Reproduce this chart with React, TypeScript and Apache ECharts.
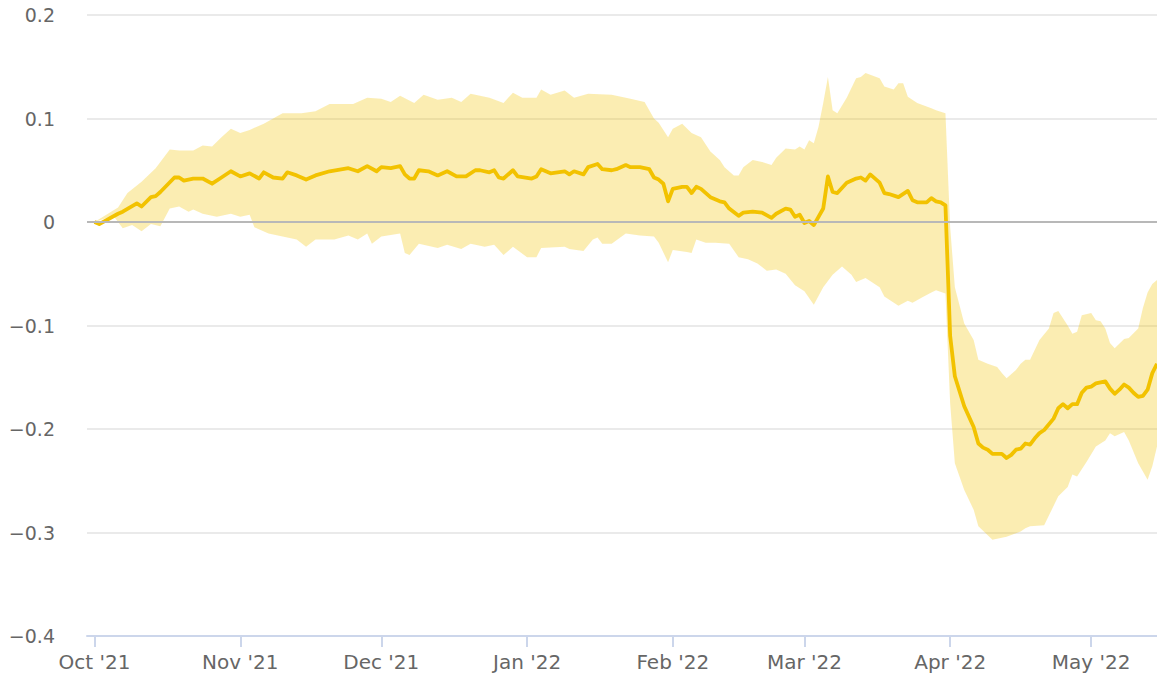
import React, { useEffect, useRef } from "react";
import * as echarts from "echarts";

// Central estimate (daily)
const meanDates = [
  "2021-10-01","2021-10-02","2021-10-06","2021-10-07","2021-10-10","2021-10-11","2021-10-13","2021-10-14","2021-10-15",
  "2021-10-18","2021-10-19","2021-10-20","2021-10-22","2021-10-24","2021-10-26","2021-10-28","2021-10-30",
  "2021-11-01","2021-11-03","2021-11-05","2021-11-06","2021-11-08","2021-11-10","2021-11-11","2021-11-13","2021-11-15",
  "2021-11-17","2021-11-20","2021-11-24","2021-11-26","2021-11-28","2021-11-30",
  "2021-12-01","2021-12-03","2021-12-05","2021-12-06","2021-12-07","2021-12-08","2021-12-09","2021-12-11","2021-12-13",
  "2021-12-15","2021-12-17","2021-12-19","2021-12-21","2021-12-22","2021-12-24","2021-12-25","2021-12-26","2021-12-27",
  "2021-12-29","2021-12-30",
  "2022-01-02","2022-01-03","2022-01-04","2022-01-06","2022-01-09","2022-01-10","2022-01-11","2022-01-13","2022-01-14",
  "2022-01-16","2022-01-17","2022-01-19","2022-01-20","2022-01-22","2022-01-23","2022-01-25","2022-01-27","2022-01-28",
  "2022-01-29","2022-01-30","2022-01-31",
  "2022-02-01","2022-02-03","2022-02-04","2022-02-05","2022-02-06","2022-02-07","2022-02-09","2022-02-11","2022-02-12",
  "2022-02-13","2022-02-15","2022-02-16","2022-02-18","2022-02-20","2022-02-22","2022-02-23","2022-02-25","2022-02-26",
  "2022-02-27","2022-02-28",
  "2022-03-01","2022-03-02","2022-03-03","2022-03-05","2022-03-06","2022-03-07","2022-03-08","2022-03-10","2022-03-12",
  "2022-03-13","2022-03-14","2022-03-15","2022-03-17","2022-03-18","2022-03-19","2022-03-21","2022-03-23","2022-03-24",
  "2022-03-25","2022-03-27","2022-03-28","2022-03-29","2022-03-30","2022-03-31",
  "2022-04-01","2022-04-02","2022-04-04","2022-04-06","2022-04-07","2022-04-08","2022-04-09","2022-04-10","2022-04-12",
  "2022-04-13","2022-04-14","2022-04-15","2022-04-16","2022-04-17","2022-04-18","2022-04-19","2022-04-20","2022-04-21",
  "2022-04-23","2022-04-24","2022-04-25","2022-04-26","2022-04-27","2022-04-28","2022-04-29","2022-04-30",
  "2022-05-01","2022-05-02","2022-05-04","2022-05-05","2022-05-06","2022-05-07","2022-05-08","2022-05-09","2022-05-10",
  "2022-05-11","2022-05-12","2022-05-13","2022-05-14","2022-05-15",
];
const meanValues = [
  0.000,-0.002,0.008,0.010,0.018,0.015,0.024,0.025,0.029,
  0.043,0.043,0.040,0.042,0.042,0.037,0.043,0.049,
  0.044,0.047,0.042,0.048,0.043,0.042,0.048,0.045,0.041,
  0.045,0.049,0.052,0.049,0.054,0.049,
  0.053,0.052,0.054,0.046,0.042,0.042,0.050,0.049,0.045,
  0.049,0.044,0.044,0.050,0.050,0.048,0.050,0.043,0.042,
  0.050,0.044,
  0.042,0.044,0.051,0.047,0.049,0.046,0.049,0.046,0.053,
  0.056,0.051,0.050,0.051,0.055,0.053,0.053,0.051,0.043,
  0.041,0.037,0.020,
  0.032,0.034,0.034,0.028,0.034,0.032,0.024,0.020,0.019,
  0.013,0.006,0.009,0.010,0.009,0.004,0.008,0.013,0.012,
  0.005,0.007,
  -0.001,0.001,-0.003,0.013,0.044,0.029,0.028,0.038,0.042,
  0.043,0.040,0.046,0.038,0.028,0.027,0.024,0.030,0.021,
  0.019,0.019,0.023,0.020,0.019,0.016,
  -0.110,-0.149,-0.178,-0.198,-0.214,-0.218,-0.220,-0.224,-0.224,
  -0.228,-0.225,-0.220,-0.219,-0.214,-0.215,-0.209,-0.204,-0.201,
  -0.190,-0.180,-0.176,-0.180,-0.176,-0.176,-0.165,-0.160,
  -0.159,-0.156,-0.154,-0.161,-0.166,-0.162,-0.157,-0.160,-0.165,
  -0.169,-0.168,-0.162,-0.146,-0.137,
];

// Upper bound of the uncertainty band
const upperDates = [
  "2021-10-01","2021-10-06","2021-10-08","2021-10-11","2021-10-14","2021-10-17","2021-10-19","2021-10-22","2021-10-24",
  "2021-10-26","2021-10-28","2021-10-30","2021-11-01","2021-11-03","2021-11-06","2021-11-10","2021-11-14","2021-11-17",
  "2021-11-20","2021-11-25","2021-11-28","2021-12-01","2021-12-03","2021-12-05","2021-12-08","2021-12-10","2021-12-13",
  "2021-12-16","2021-12-18","2021-12-20","2021-12-24","2021-12-27","2021-12-29","2021-12-31",
  "2022-01-03","2022-01-04","2022-01-06","2022-01-09","2022-01-11","2022-01-14","2022-01-19","2022-01-23","2022-01-26",
  "2022-01-28","2022-01-29","2022-01-31",
  "2022-02-01","2022-02-03","2022-02-05","2022-02-07","2022-02-09","2022-02-11","2022-02-12","2022-02-14","2022-02-15",
  "2022-02-16","2022-02-18","2022-02-20","2022-02-22","2022-02-23","2022-02-25","2022-02-27","2022-02-28",
  "2022-03-01","2022-03-02","2022-03-03","2022-03-04","2022-03-05","2022-03-06","2022-03-07","2022-03-08","2022-03-10",
  "2022-03-12","2022-03-13","2022-03-14","2022-03-17","2022-03-18","2022-03-20","2022-03-21","2022-03-22","2022-03-23",
  "2022-03-25","2022-03-28","2022-03-29","2022-03-31",
  "2022-04-01","2022-04-02","2022-04-04","2022-04-06","2022-04-07","2022-04-09","2022-04-11","2022-04-12","2022-04-13",
  "2022-04-15","2022-04-16","2022-04-17","2022-04-18","2022-04-20","2022-04-22","2022-04-23","2022-04-24","2022-04-26",
  "2022-04-27","2022-04-28","2022-04-29",
  "2022-05-01","2022-05-02","2022-05-03","2022-05-04","2022-05-05","2022-05-06","2022-05-08","2022-05-09","2022-05-11",
  "2022-05-12","2022-05-13","2022-05-14","2022-05-15",
];
const upperValues = [
  0.000,0.014,0.028,0.039,0.052,0.070,0.069,0.069,0.074,
  0.073,0.082,0.090,0.086,0.089,0.095,0.105,0.105,0.107,
  0.114,0.114,0.120,0.119,0.116,0.122,0.115,0.123,0.118,
  0.120,0.116,0.124,0.120,0.115,0.125,0.120,
  0.120,0.128,0.123,0.127,0.120,0.124,0.123,0.119,0.116,
  0.100,0.096,0.082,
  0.090,0.095,0.086,0.082,0.068,0.060,0.053,0.045,0.045,
  0.053,0.060,0.058,0.055,0.062,0.071,0.070,0.073,
  0.070,0.079,0.076,0.092,0.115,0.140,0.108,0.105,0.120,
  0.139,0.140,0.144,0.139,0.131,0.128,0.134,0.134,0.121,
  0.115,0.110,0.108,0.105,
  -0.005,-0.063,-0.098,-0.114,-0.133,-0.137,-0.140,-0.146,-0.151,
  -0.143,-0.137,-0.133,-0.133,-0.114,-0.103,-0.088,-0.086,-0.100,
  -0.108,-0.106,-0.090,
  -0.088,-0.095,-0.096,-0.103,-0.117,-0.122,-0.113,-0.112,-0.103,
  -0.083,-0.068,-0.060,-0.056,
];

// Lower bound of the uncertainty band
const lowerDates = [
  "2021-10-01","2021-10-05","2021-10-07","2021-10-09","2021-10-11","2021-10-13","2021-10-15","2021-10-17","2021-10-19",
  "2021-10-21","2021-10-22","2021-10-24","2021-10-27","2021-10-30","2021-11-01","2021-11-03","2021-11-04","2021-11-07",
  "2021-11-10","2021-11-13","2021-11-15","2021-11-17","2021-11-21","2021-11-24","2021-11-26","2021-11-28","2021-11-29",
  "2021-12-01","2021-12-05","2021-12-06","2021-12-07","2021-12-09","2021-12-13","2021-12-15","2021-12-18","2021-12-20",
  "2021-12-23","2021-12-25","2021-12-27","2021-12-29",
  "2022-01-01","2022-01-03","2022-01-04","2022-01-09","2022-01-10","2022-01-13","2022-01-15","2022-01-16","2022-01-17",
  "2022-01-19","2022-01-22","2022-01-25","2022-01-28","2022-01-29","2022-01-31",
  "2022-02-01","2022-02-04","2022-02-05","2022-02-06","2022-02-08","2022-02-10","2022-02-13","2022-02-15","2022-02-17",
  "2022-02-19","2022-02-21","2022-02-23","2022-02-25","2022-02-27",
  "2022-03-01","2022-03-03","2022-03-05","2022-03-07","2022-03-09","2022-03-11","2022-03-12","2022-03-14","2022-03-17",
  "2022-03-18","2022-03-21","2022-03-23","2022-03-24","2022-03-26","2022-03-28","2022-03-29","2022-03-31",
  "2022-04-01","2022-04-02","2022-04-04","2022-04-06","2022-04-07","2022-04-10","2022-04-13","2022-04-16","2022-04-17",
  "2022-04-18","2022-04-21","2022-04-24","2022-04-26","2022-04-27","2022-04-28","2022-04-30",
  "2022-05-02","2022-05-04","2022-05-05","2022-05-06","2022-05-08","2022-05-09","2022-05-11","2022-05-13","2022-05-14",
  "2022-05-15",
];
const lowerValues = [
  0.000,0.006,-0.006,-0.003,-0.009,-0.002,-0.004,0.013,0.015,
  0.010,0.012,0.008,0.005,0.008,0.005,0.007,-0.005,-0.011,
  -0.014,-0.017,-0.024,-0.017,-0.017,-0.013,-0.017,-0.011,-0.021,
  -0.014,-0.011,-0.030,-0.032,-0.021,-0.025,-0.022,-0.026,-0.021,
  -0.024,-0.022,-0.032,-0.024,
  -0.034,-0.034,-0.025,-0.024,-0.026,-0.028,-0.017,-0.015,-0.021,
  -0.021,-0.011,-0.013,-0.014,-0.020,-0.039,
  -0.027,-0.029,-0.030,-0.017,-0.020,-0.020,-0.021,-0.034,-0.036,
  -0.040,-0.047,-0.046,-0.050,-0.061,
  -0.067,-0.080,-0.063,-0.051,-0.043,-0.051,-0.058,-0.054,-0.063,
  -0.072,-0.081,-0.076,-0.078,-0.073,-0.068,-0.066,-0.069,
  -0.175,-0.233,-0.259,-0.278,-0.294,-0.307,-0.304,-0.299,-0.296,
  -0.294,-0.293,-0.265,-0.256,-0.244,-0.246,-0.232,
  -0.217,-0.211,-0.204,-0.207,-0.203,-0.211,-0.233,-0.249,-0.236,
  -0.217,
];

// Axis ticks and labels
const xTickDates = ["2021-10-01","2021-11-01","2021-12-01","2022-01-01","2022-02-01","2022-03-01","2022-04-01","2022-05-01"];
const xTickLabels = ["Oct '21","Nov '21","Dec '21","Jan '22","Feb '22","Mar '22","Apr '22","May '22"];
const yTicks = [-0.4, -0.3, -0.2, -0.1, 0, 0.1, 0.2];
const yTickLabels = ["\u22120.4", "\u22120.3", "\u22120.2", "\u22120.1", "0", "0.1", "0.2"];
const xRange = ["2021-09-29T09:30:00Z", "2022-05-15T00:00:00Z"];

const LINE_COLOR = "#f2c200";
const BAND_COLOR = "rgba(242, 194, 0, 0.3)";
const FONT = "'DejaVu Sans', Verdana, sans-serif";

const ts = (s: string) => (s.length > 10 ? Date.parse(s) : Date.parse(s + "T00:00:00Z"));

export default function App() {
  const ref = useRef<HTMLDivElement>(null);

  useEffect(() => {
    document.body.style.margin = "0";
    if (!ref.current) return;
    const chart = echarts.init(ref.current, undefined, { renderer: "svg" });
    const xTickTs = xTickDates.map(ts);

    const option: any = {
      animation: false,
      grid: { left: 87, right: 0, top: 15, bottom: 45, containLabel: false },
      xAxis: {
        type: "value",
        min: ts(xRange[0]),
        max: ts(xRange[1]),
        axisLine: { show: true, onZero: false, lineStyle: { color: "#ccd6eb", width: 2 } },
        axisTick: {
          show: true,
          customValues: xTickTs,
          length: 11,
          lineStyle: { color: "#ccd6eb", width: 2 },
        },
        axisLabel: {
          customValues: xTickTs,
          color: "#666666",
          fontFamily: FONT,
          fontSize: 20,
          margin: 16,
          formatter: (v: number) => {
            const i = xTickTs.findIndex((t) => Math.abs(t - v) < 3600000);
            return i >= 0 ? xTickLabels[i] : "";
          },
        },
        splitLine: { show: false },
      },
      yAxis: {
        type: "value",
        min: yTicks[0],
        max: yTicks[yTicks.length - 1],
        interval: 0.1,
        axisLine: { show: false },
        axisTick: { show: false },
        axisLabel: {
          color: "#666666",
          fontFamily: FONT,
          fontSize: 19,
          margin: 32,
          formatter: (v: number) => {
            let best = 0;
            yTicks.forEach((t, i) => {
              if (Math.abs(t - v) < Math.abs(yTicks[best] - v)) best = i;
            });
            return yTickLabels[best];
          },
        },
        splitLine: { show: true, lineStyle: { color: "#e3e3e3", width: 1.6 } },
      },
      series: [
        {
          name: "Range",
          type: "custom",
          z: 2,
          silent: true,
          data: [[ts(upperDates[0]), upperValues[0]]],
          renderItem: (params: any, api: any) => {
            const pts: number[][] = [];
            upperDates.forEach((d, i) => pts.push(api.coord([ts(d), upperValues[i]])));
            for (let i = lowerDates.length - 1; i >= 0; i--) {
              pts.push(api.coord([ts(lowerDates[i]), lowerValues[i]]));
            }
            return {
              type: "polygon",
              shape: { points: pts },
              style: { fill: BAND_COLOR, stroke: "none" },
            };
          },
          markLine: {
            silent: true,
            symbol: "none",
            label: { show: false },
            lineStyle: { color: "#b8b8b8", width: 2.2, type: "solid" },
            data: [{ yAxis: 0 }],
          },
        },
        {
          name: "Estimate",
          type: "line",
          z: 3,
          showSymbol: false,
          symbol: "none",
          lineStyle: { color: LINE_COLOR, width: 3.8, join: "round" },
          itemStyle: { color: LINE_COLOR },
          data: meanDates.map((d, i) => [ts(d), meanValues[i]]),
        },
      ],
    };
    chart.setOption(option);
    return () => chart.dispose();
  }, []);

  return <div ref={ref} style={{ width: 1157, height: 681 }} />;
}
